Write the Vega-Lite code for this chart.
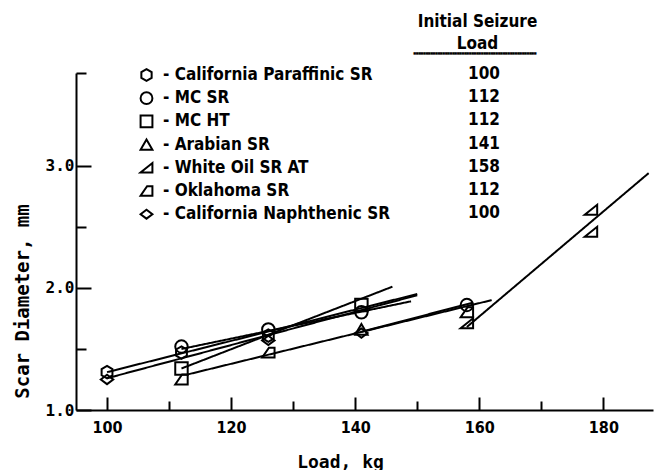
{
  "$schema": "https://vega.github.io/schema/vega-lite/v6.json",
  "width": 577,
  "height": 337,
  "autosize": {"type": "none"},
  "padding": {"left": 76, "top": 73, "right": 9, "bottom": 60},
  "background": "white",
  "config": {"view": {"stroke": null}},
  "title": {
    "text": ["Initial Seizure", "Load"],
    "anchor": "middle",
    "frame": "group",
    "dx": 113,
    "offset": -17,
    "font": "Liberation Sans Narrow, DejaVu Sans Condensed, sans-serif",
    "fontWeight": "bold",
    "fontSize": 17,
    "color": "black",
    "lineHeight": 22,
    "baseline": "bottom"
  },
  "datasets": {
    "points": [
      {"oil": "California Paraffinic SR", "load": 100, "diameter": 1.31},
      {"oil": "California Paraffinic SR", "load": 112, "diameter": 1.47},
      {"oil": "California Paraffinic SR", "load": 126, "diameter": 1.61},
      {"oil": "MC SR", "load": 112, "diameter": 1.52},
      {"oil": "MC SR", "load": 126, "diameter": 1.66},
      {"oil": "MC SR", "load": 141, "diameter": 1.80},
      {"oil": "MC SR", "load": 158, "diameter": 1.86},
      {"oil": "MC HT", "load": 112, "diameter": 1.34},
      {"oil": "MC HT", "load": 141, "diameter": 1.86},
      {"oil": "Arabian SR", "load": 141, "diameter": 1.66},
      {"oil": "White Oil SR AT", "load": 158, "diameter": 1.71},
      {"oil": "White Oil SR AT", "load": 178, "diameter": 2.64},
      {"oil": "White Oil SR AT", "load": 178, "diameter": 2.46},
      {"oil": "Oklahoma SR", "load": 112, "diameter": 1.25},
      {"oil": "Oklahoma SR", "load": 126, "diameter": 1.47},
      {"oil": "Oklahoma SR", "load": 158, "diameter": 1.80},
      {"oil": "California Naphthenic SR", "load": 100, "diameter": 1.25},
      {"oil": "California Naphthenic SR", "load": 126, "diameter": 1.57},
      {"oil": "California Naphthenic SR", "load": 141, "diameter": 1.63}
    ],
    "fits": [
      {"oil": "California Paraffinic SR", "load": 100, "diameter": 1.31},
      {"oil": "California Paraffinic SR", "load": 150, "diameter": 1.95},
      {"oil": "MC SR", "load": 112, "diameter": 1.50},
      {"oil": "MC SR", "load": 149, "diameter": 1.89},
      {"oil": "MC HT", "load": 112, "diameter": 1.34},
      {"oil": "MC HT", "load": 146, "diameter": 2.01},
      {"oil": "Arabian SR", "load": 141, "diameter": 1.64},
      {"oil": "Arabian SR", "load": 159, "diameter": 1.88},
      {"oil": "White Oil SR AT", "load": 158, "diameter": 1.68},
      {"oil": "White Oil SR AT", "load": 187.3, "diameter": 2.94},
      {"oil": "Oklahoma SR", "load": 112.9, "diameter": 1.29},
      {"oil": "Oklahoma SR", "load": 162, "diameter": 1.90},
      {"oil": "California Naphthenic SR", "load": 100, "diameter": 1.26},
      {"oil": "California Naphthenic SR", "load": 150, "diameter": 1.94}
    ],
    "oils": [
      {"oil": "California Paraffinic SR", "seizure": 100},
      {"oil": "MC SR", "seizure": 112},
      {"oil": "MC HT", "seizure": 112},
      {"oil": "Arabian SR", "seizure": 141},
      {"oil": "White Oil SR AT", "seizure": 158},
      {"oil": "Oklahoma SR", "seizure": 112},
      {"oil": "California Naphthenic SR", "seizure": 100}
    ]
  },
  "encoding": {
    "x": {
      "field": "load",
      "type": "quantitative",
      "scale": {"domain": [95, 188], "nice": false, "zero": false},
      "axis": {
        "title": "Load, kg",
        "titleFont": "DejaVu Sans Mono",
        "titleFontWeight": "bold",
        "titleFontSize": 18,
        "titleColor": "black",
        "titleX": 264,
        "titleY": 52,
        "titleAlign": "center",
        "titleBaseline": "middle",
        "values": [100, 110, 120, 130, 140, 150, 160, 170, 180],
        "labelExpr": "datum.value % 20 == 0 ? datum.label : ''",
        "labelFont": "Liberation Sans Narrow, DejaVu Sans Condensed, sans-serif",
        "labelFontWeight": "bold",
        "labelFontSize": 16,
        "labelColor": "black",
        "labelPadding": 22,
        "labelFlush": false,
        "labelOverlap": false,
        "tickSize": {"condition": {"test": "datum.value % 20 == 0", "value": -13}, "value": -9},
        "tickColor": "black",
        "tickWidth": 2,
        "domainColor": "black",
        "domainWidth": 2,
        "grid": false
      }
    },
    "y": {
      "field": "diameter",
      "type": "quantitative",
      "scale": {"domain": [1, 3.76], "nice": false, "zero": false},
      "axis": {
        "title": "Scar Diameter, mm",
        "titleFont": "DejaVu Sans Mono",
        "titleFontWeight": "bold",
        "titleFontSize": 19,
        "titleColor": "black",
        "titleX": -54,
        "titleY": 228,
        "titleAngle": -90,
        "titleAlign": "center",
        "titleBaseline": "middle",
        "values": [1, 1.5, 2, 2.5, 3, 3.76],
        "labelExpr": "datum.value == 1 || datum.value == 2 || datum.value == 3 ? format(datum.value, '.1f') : ''",
        "labelFont": "DejaVu Sans Mono",
        "labelFontWeight": "bold",
        "labelFontSize": 16,
        "labelColor": "black",
        "labelPadding": 17,
        "labelFlush": false,
        "labelOverlap": false,
        "tickSize": {"condition": {"test": "datum.value == 1 || datum.value == 2 || datum.value == 3", "value": -15}, "value": -10},
        "tickColor": "black",
        "tickWidth": 2,
        "domainColor": "black",
        "domainWidth": 2,
        "grid": false
      }
    }
  },
  "layer": [
    {
      "data": {"name": "fits"},
      "transform": [
        {"lookup": "oil", "from": {"data": {"name": "oils"}, "key": "oil", "fields": ["seizure"]}}
      ],
      "mark": {"type": "line", "color": "black", "strokeWidth": 2},
      "encoding": {
        "strokeDash": {
          "field": "oil",
          "type": "nominal",
          "sort": ["California Paraffinic SR", "MC SR", "MC HT", "Arabian SR", "White Oil SR AT", "Oklahoma SR", "California Naphthenic SR"],
          "scale": {"range": [[1, 0], [1, 0], [1, 0], [1, 0], [1, 0], [1, 0], [1, 0]]},
          "legend": {
            "orient": "none",
            "legendX": 338,
            "legendY": -20,
            "padding": 0,
            "title": "▀▀▀▀▀▀▀▀▀▀▀▀▀▀▀▀▀▀▀▀▀▀▀▀▀▀▀▀▀▀▀▀▀▀▀▀▀▀▀▀▀▀▀▀▀▀▀▀▀▀▀",
            "titleFont": "DejaVu Sans Mono",
            "titleFontWeight": "normal",
            "titleFontSize": 4,
            "titleColor": "black",
            "titleAnchor": "middle",
            "titleAlign": "center",
            "titlePadding": 8,
            "titleLimit": 300,
            "labelExpr": "data('oils')[datum.index].seizure",
            "labelFont": "Liberation Sans Narrow, DejaVu Sans Condensed, sans-serif",
            "labelFontWeight": "bold",
            "labelFontSize": 17,
            "labelColor": "black",
            "labelAlign": "center",
            "labelOffset": 17,
            "symbolOpacity": 0,
            "symbolStrokeWidth": 0,
            "symbolSize": 1,
            "rowPadding": 5.2,
            "clipHeight": 18
          }
        }
      }
    },
    {
      "data": {"name": "points"},
      "mark": {"type": "point", "filled": false, "color": "black", "strokeWidth": 2, "size": 155, "opacity": 1},
      "encoding": {
        "shape": {
          "field": "oil",
          "type": "nominal",
          "scale": {
            "domain": ["California Paraffinic SR", "MC SR", "MC HT", "Arabian SR", "White Oil SR AT", "Oklahoma SR", "California Naphthenic SR"],
            "range": [
              "M0,-1L0.87,-0.5L0.87,0.5L0,1L-0.87,0.5L-0.87,-0.5Z",
              "circle",
              "square",
              "triangle-up",
              "M-1,0.8L1,0.8L1,-0.8Z",
              "M-1,0.8L1,0.8L1,-0.8L0.1,-0.8Z",
              "M-1,0L0,-0.75L1,0L0,0.75Z"
            ]
          },
          "legend": {
            "orient": "none",
            "legendX": 62,
            "legendY": -7,
            "padding": 0,
            "title": null,
            "labelExpr": "'- ' + datum.label",
            "labelFont": "Liberation Sans Narrow, DejaVu Sans Condensed, sans-serif",
            "labelFontWeight": "bold",
            "labelFontSize": 17,
            "labelColor": "black",
            "labelOffset": 8,
            "labelLimit": 400,
            "symbolStrokeColor": "black",
            "symbolStrokeWidth": 2,
            "symbolFillColor": "transparent",
            "symbolSize": 140,
            "symbolOpacity": 1,
            "rowPadding": 5.2,
            "clipHeight": 18
          }
        }
      }
    }
  ]
}
